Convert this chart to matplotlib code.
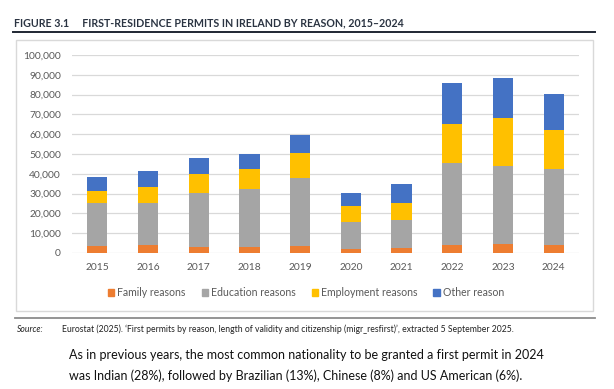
import matplotlib
matplotlib.use("Agg")
import matplotlib.pyplot as plt
from matplotlib.patches import Rectangle
from matplotlib.lines import Line2D
from matplotlib.ticker import FuncFormatter
import numpy as np

# values (permits)
years = ["2015", "2016", "2017", "2018", "2019", "2020", "2021", "2022", "2023", "2024"]
family = [3400, 4200, 3000, 2900, 3700, 2000, 2700, 4000, 4400, 4000]
education = [21800, 21000, 27200, 29500, 34400, 13900, 14100, 41300, 39700, 38400]
employment = [6300, 7900, 9900, 10200, 12400, 7600, 8400, 19800, 24200, 19700]
other = [6800, 8200, 7900, 7400, 8900, 6700, 9500, 20800, 20300, 18100]

series_names = ["Family reasons", "Education reasons", "Employment reasons", "Other reason"]
colors = ["#ED7D31", "#A5A5A5", "#FFC000", "#4472C4"]

plt.rcParams['font.family'] = ['Lato', 'DejaVu Sans']

W, H = 614, 389
fig = plt.figure(figsize=(W / 100, H / 100), dpi=100)

def fx(px):
    return px / W

def fy(py):
    return 1 - py / H

# chart box
box = Rectangle((fx(16), fy(311)), fx(593) - fx(16), fy(40) - fy(311),
                transform=fig.transFigure, facecolor="white",
                edgecolor="#d9d9d9", linewidth=1.0, zorder=-1)
fig.add_artist(box)

ax = fig.add_axes([fx(72), fy(253), fx(579) - fx(72), fy(55) - fy(253)])
ax.set_zorder(2)
ax.set_facecolor("none")

x = np.arange(len(years))
bottom = np.zeros(len(years))
for vals, name, c in zip([family, education, employment, other], series_names, colors):
    ax.bar(x, vals, width=0.4, bottom=bottom, color=c, label=name, zorder=3)
    bottom += np.array(vals)

ax.set_ylim(0, 100000)
ax.set_xlim(-0.5, len(years) - 0.5)
ax.set_yticks(np.arange(0, 100001, 10000))
ax.yaxis.set_major_formatter(FuncFormatter(lambda v, p: f"{int(v):,}"))
ax.set_xticks(x)
ax.set_xticklabels(years)
ax.grid(axis="y", color="#d9d9d9", linewidth=0.9, zorder=0)
for s in ax.spines.values():
    s.set_visible(False)
ax.tick_params(axis="both", length=0, labelsize=7.4, colors="#595959", pad=8)
ax.tick_params(axis="x", pad=7)

handles = [Rectangle((0, 0), 1, 1, color=c) for c in colors]
fig.legend(handles, series_names, loc="center", bbox_to_anchor=(fx(306), fy(293)),
           ncol=4, frameon=False, fontsize=7.6, labelcolor="#595959",
           handlelength=0.6, handleheight=0.6, handletextpad=0.3, columnspacing=1.5)

# title and rules
fig.text(fx(14), fy(23), "FIGURE 3.1     FIRST-RESIDENCE PERMITS IN IRELAND BY REASON, 2015\u20132024",
         fontsize=7.7, fontweight="bold", color="#2b3442", va="center", ha="left")
fig.add_artist(Line2D([fx(13), fx(595)], [fy(32), fy(32)], transform=fig.transFigure,
                      color="#1f2733", linewidth=1.4))
fig.add_artist(Line2D([fx(15), fx(595)], [fy(318), fy(318)], transform=fig.transFigure,
                      color="#8c8c8c", linewidth=1.3))

fig.text(fx(17), fy(329), "Source:", fontsize=6.2, style="italic", color="#222222", va="center")
fig.text(fx(62), fy(329), "Eurostat (2025). \u2018First permits by reason, length of validity and citizenship (migr_resfirst)\u2019, extracted 5 September 2025.",
         fontsize=6.2, color="#222222", va="center")

fig.text(fx(69), fy(355), "As in previous years, the most common nationality to be granted a first permit in 2024",
         fontsize=9.0, color="#111111", va="center")
fig.text(fx(69), fy(376), "was Indian (28%), followed by Brazilian (13%), Chinese (8%) and US American (6%).",
         fontsize=9.0, color="#111111", va="center")

fig.savefig("out.png", dpi=100)
